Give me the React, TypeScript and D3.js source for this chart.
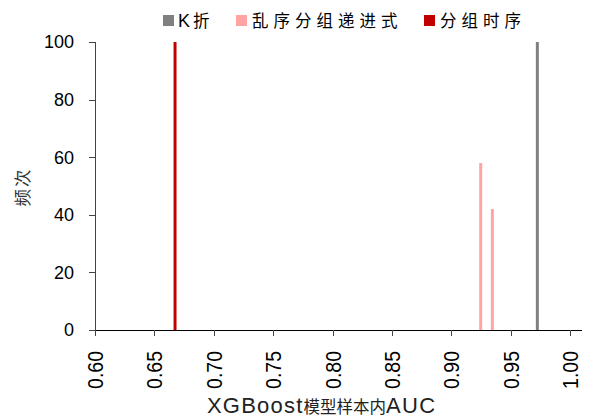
import { useEffect, useRef } from 'react';
import * as d3 from 'd3';

// 直方图数据（每个 bin 的中心 AUC 及频次）
const seriesNames = ['K折', '乱序分组递进式', '分组时序'];
const seriesColors = ['#808080', '#FFA3A3', '#C00000'];
const kfoldBins = [0.9725];
const kfoldCounts = [100];
const shuffleBins = [0.9248, 0.9346];
const shuffleCounts = [58, 42];
const timeBins = [0.6674];
const timeCounts = [100];
const xTicks = [0.6, 0.65, 0.7, 0.75, 0.8, 0.85, 0.9, 0.95, 1.0];
const yTicks = [0, 20, 40, 60, 80, 100];
const binWidth = 0.0025;

export default function App() {
  const svgRef = useRef<SVGSVGElement>(null);

  useEffect(() => {
    if (!svgRef.current) return;
    const width = 596;
    const height = 419;
    const root = d3.select(svgRef.current);
    root.selectAll('*').remove();
    root.attr('width', width).attr('height', height);

    const font = 'Arial, "Liberation Sans", sans-serif';
    const cjk = '"Noto Sans CJK SC", sans-serif';
    const left = 95, right = 570, top = 42, bottom = 330;

    const x = d3.scaleLinear().domain([0.6, 1.0]).range([left, right]);
    const y = d3.scaleLinear().domain([0, 100]).range([bottom, top]);

    const series = [
      { bins: kfoldBins, counts: kfoldCounts },
      { bins: shuffleBins, counts: shuffleCounts },
      { bins: timeBins, counts: timeCounts },
    ];

    // 柱子
    series.forEach((s, i) => {
      root.append('g')
        .selectAll('rect')
        .data(s.bins.map((b, j) => ({ b, c: s.counts[j] })))
        .join('rect')
        .attr('x', d => x(d.b - binWidth / 2))
        .attr('width', d => x(d.b + binWidth / 2) - x(d.b - binWidth / 2))
        .attr('y', d => y(d.c))
        .attr('height', d => y(0) - y(d.c))
        .attr('fill', seriesColors[i]);
    });

    // 坐标轴
    root.append('line')
      .attr('x1', left).attr('x2', 582)
      .attr('y1', bottom + 0.5).attr('y2', bottom + 0.5)
      .attr('stroke', '#000').attr('stroke-width', 1);
    root.append('line')
      .attr('x1', left + 0.5).attr('x2', left + 0.5)
      .attr('y1', top).attr('y2', bottom + 3)
      .attr('stroke', '#444').attr('stroke-width', 1);

    // y 刻度
    yTicks.forEach(t => {
      root.append('line')
        .attr('x1', left - 6).attr('x2', left)
        .attr('y1', Math.round(y(t)) + 0.5).attr('y2', Math.round(y(t)) + 0.5)
        .attr('stroke', '#444');
      root.append('text')
        .attr('x', left - 21)
        .attr('y', y(t))
        .attr('dy', '0.36em')
        .attr('text-anchor', 'end')
        .attr('font-family', font)
        .attr('font-size', 18)
        .attr('fill', '#000')
        .text(d3.format('d')(t));
    });

    // x 刻度
    xTicks.forEach(t => {
      const px = Math.round(x(t)) + 0.5;
      root.append('line')
        .attr('x1', px).attr('x2', px)
        .attr('y1', bottom).attr('y2', bottom + 6)
        .attr('stroke', '#444');
      root.append('text')
        .attr('transform', `translate(${x(t)},${351}) rotate(-90) scale(1,1.15)`)
        .attr('dy', '0.36em')
        .attr('text-anchor', 'end')
        .attr('font-family', font)
        .attr('font-size', 19.5)
        .attr('fill', '#000')
        .text(d3.format('.2f')(t));
    });

    // 轴标题
    const title = root.append('text')
      .attr('x', 207)
      .attr('y', 413)
      .attr('font-family', font)
      .attr('font-size', 22)
      .attr('fill', '#222');
    title.append('tspan').attr('letter-spacing', 1.2).text('XGBoost');
    title.append('tspan')
      .attr('font-family', cjk)
      .attr('font-size', 16.5)
      .attr('letter-spacing', 0)
      .text('模型样本内');
    title.append('tspan').attr('letter-spacing', 1.4).text('AUC');

    root.append('text')
      .attr('transform', `translate(23,187) rotate(-90)`)
      .attr('text-anchor', 'middle')
      .attr('dy', '0.35em')
      .attr('font-family', cjk)
      .attr('font-size', 17.5)
      .attr('letter-spacing', 2)
      .attr('fill', '#333')
      .text('频次');

    // 图例
    const legendX = [163, 236, 424];
    seriesNames.forEach((name, i) => {
      const g = root.append('g').attr('transform', `translate(${legendX[i]},15)`);
      g.append('rect')
        .attr('width', 11).attr('height', 11)
        .attr('fill', seriesColors[i]);
      const txt = g.append('text')
        .attr('x', i === 0 ? 15 : 16)
        .attr('y', 5.5)
        .attr('dy', '0.36em')
        .attr('font-family', font)
        .attr('font-size', 18)
        .attr('fill', '#000');
      if (i === 0) {
        txt.append('tspan').text('K');
        txt.append('tspan').attr('font-family', cjk).attr('font-size', 16.5).attr('dx', 3).text('折');
      } else {
        txt.append('tspan').attr('font-family', cjk).attr('font-size', 16.5).attr('letter-spacing', 5).text(name);
      }
    });
  }, []);

  return <svg ref={svgRef} style={{ position: 'absolute', left: 0, top: 0, display: 'block' }} />;
}
